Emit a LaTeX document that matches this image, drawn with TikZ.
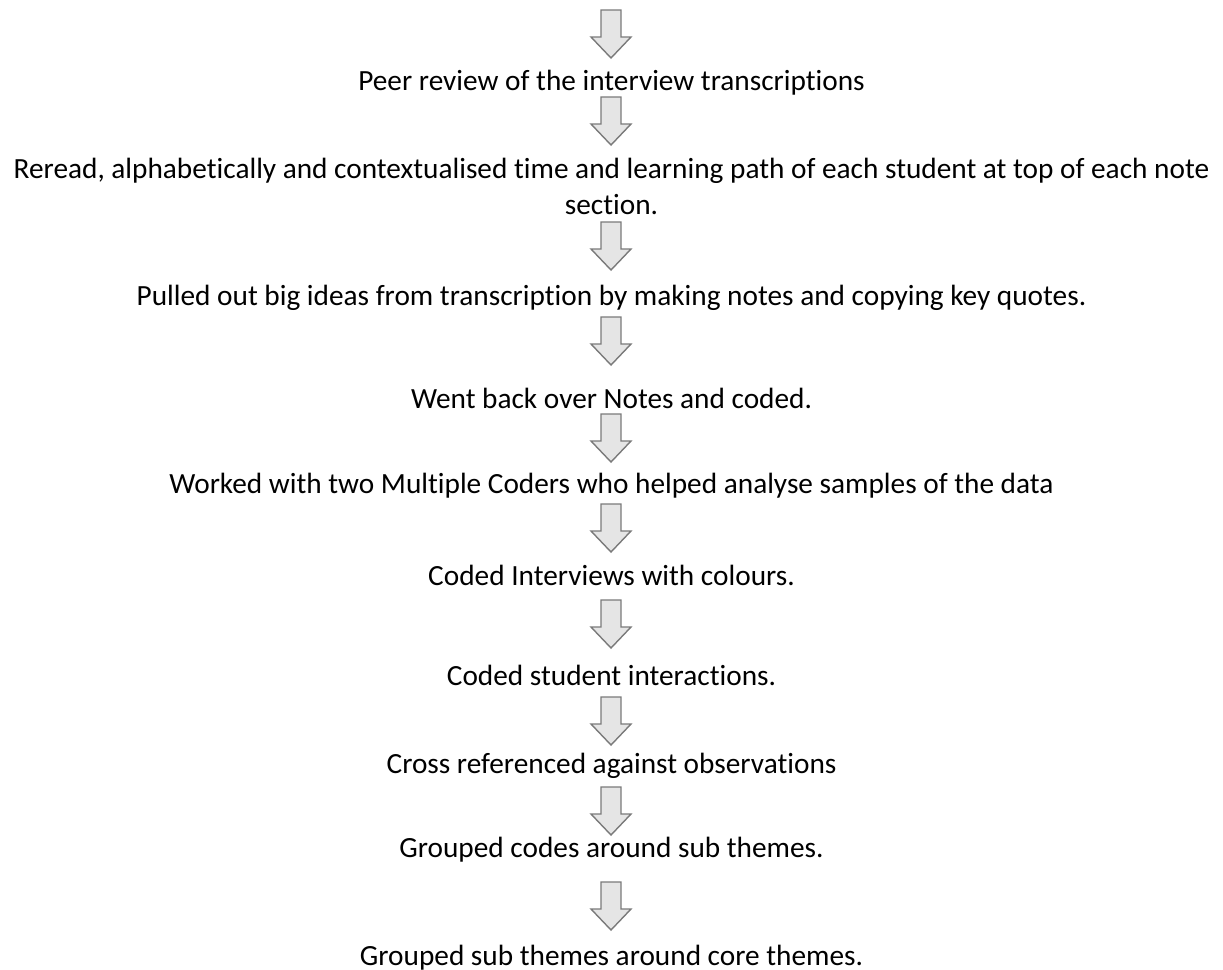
\documentclass[tikz,border=0pt]{standalone}
\usepackage{fontspec}
\setmainfont{Carlito}[Ligatures=CommonOff]
\begin{document}
\begin{tikzpicture}[x=1pt,y=-1pt,
  steptext/.style={anchor=base,inner sep=0pt,font=\fontsize{29.3}{36}\selectfont,text=black},
  blockarrow/.pic={
    \path[draw=black!52,line width=1.4pt,fill=black!10,line join=miter]
      (-10,0) -- (10,0) -- (10,27) -- (20,27) -- (0,48) -- (-20,27) -- (-10,27) -- cycle;
  }]
\useasboundingbox (0,0) rectangle (1223,969);
\def\cx{611.5}
% flow steps
\node[steptext] (s1) at (\cx,90) {Peer review of the interview transcriptions};
\node[steptext] (s2a) at (\cx,178) {Reread, alphabetically and contextualised time and learning path of each student at top of each note};
\node[steptext] (s2b) at (\cx,214) {section.};
\node[steptext] (s3) at (\cx,305) {Pulled out big ideas from transcription by making notes and copying key quotes.};
\node[steptext] (s4) at (\cx,408) {Went back over Notes and coded.};
\node[steptext] (s5) at (\cx,493) {Worked with two Multiple Coders who helped analyse samples of the data};
\node[steptext] (s6) at (\cx,585) {Coded Interviews with colours.};
\node[steptext] (s7) at (\cx,685) {Coded student interactions.};
\node[steptext] (s8) at (\cx,773) {Cross referenced against observations};
\node[steptext] (s9) at (\cx,857) {Grouped codes around sub themes.};
\node[steptext] (s10) at (\cx,965) {Grouped sub themes around core themes.};
% block arrows between the steps (tip y minus 48)
\foreach \t in {58,145,270,365,462,552,648,745,835,930}
  \pic at (611,\t-48) {blockarrow};
\end{tikzpicture}
\end{document}
